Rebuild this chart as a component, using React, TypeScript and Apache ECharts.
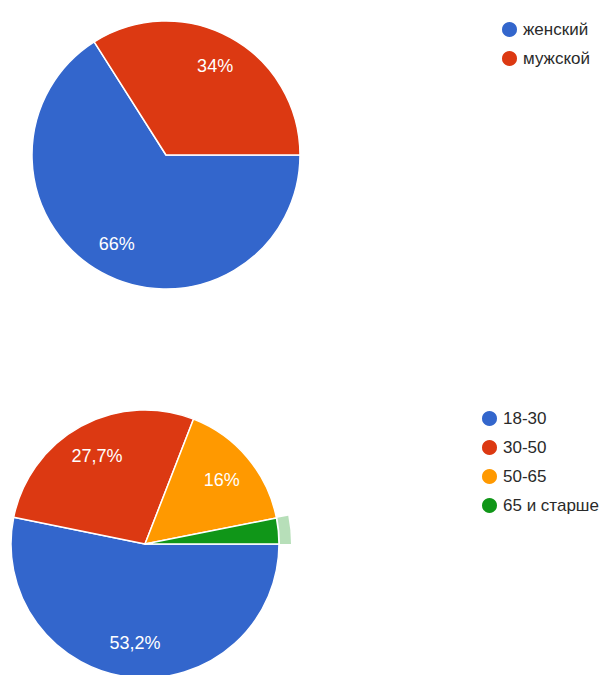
import React, { useEffect, useRef } from "react";
import * as echarts from "echarts";

const genderNames = ["женский", "мужской"];
const genderValues = [66, 34];
const ageNames = ["18-30", "30-50", "50-65", "65 и старше"];
const ageValues = [53.2, 27.7, 16, 3.1];
const palette = ["#3366cc", "#dc3912", "#ff9900", "#109618"];
const highlightIndex = 3;

const FONT = "Arial, 'Liberation Sans', sans-serif";

const fmt = (p: any) => String(p.value).replace(".", ",") + "%";

export default function App() {
  const ref = useRef<HTMLDivElement>(null);
  useEffect(() => {
    if (!ref.current) return;
    const chart = echarts.init(ref.current, null, { renderer: "svg" });

    const mkData = (names: string[], values: number[]) =>
      names.map((n, i) => ({ name: n, value: values[i], itemStyle: { color: palette[i] } }));

    const mkLabelData = (names: string[], values: number[]) =>
      names.map((n, i) => ({
        name: n,
        value: values[i],
        itemStyle: { color: "rgba(0,0,0,0)", borderWidth: 0 },
        label: { show: values[i] >= 5 },
      }));

    const pieBase = {
      type: "pie",
      startAngle: 0,
      clockwise: true,
      silent: true,
      avoidLabelOverlap: false,
      emphasis: { disabled: true },
    };

    const labelStyle = {
      show: true,
      position: "inside",
      color: "#ffffff",
      fontSize: 18,
      fontFamily: FONT,
      formatter: fmt,
    };

    const legendText = { color: "#2a2a2a", fontSize: 17, fontFamily: FONT };

    const legendBase = {
      orient: "vertical",
      icon: "circle",
      itemWidth: 17,
      itemHeight: 17,
      itemGap: 10,
      padding: 0,
      selectedMode: false,
      textStyle: legendText,
    };

    chart.setOption({
      animation: false,
      backgroundColor: "#ffffff",
      legend: [
        {
          ...legendBase,
          left: 500,
          top: 20,
          data: genderNames.map((n, i) => ({ name: n, itemStyle: { color: palette[i] } })),
        },
        {
          ...legendBase,
          left: 480,
          top: 409,
          data: ageNames.map((n, i) => ({ name: n, itemStyle: { color: palette[i] } })),
        },
      ],
      series: [
        {
          ...pieBase,
          name: "gender",
          center: [166, 155],
          radius: [0, 134],
          label: { show: false },
          labelLine: { show: false },
          itemStyle: { borderColor: "#ffffff", borderWidth: 1.5 },
          data: mkData(genderNames, genderValues),
        },
        {
          ...pieBase,
          name: "genderLabels",
          center: [166, 155],
          radius: [64, 134],
          label: labelStyle,
          labelLine: { show: false },
          data: mkLabelData(genderNames, genderValues),
        },
        {
          ...pieBase,
          name: "age",
          center: [145, 544],
          radius: [0, 134],
          label: { show: false },
          labelLine: { show: false },
          itemStyle: { borderColor: "#ffffff", borderWidth: 1.5 },
          data: mkData(ageNames, ageValues),
        },
        {
          ...pieBase,
          name: "ageHighlight",
          center: [145, 544],
          radius: [135, 146],
          label: { show: false },
          labelLine: { show: false },
          data: ageNames.map((n, i) => ({
            name: n,
            value: ageValues[i],
            itemStyle: {
              color: i === highlightIndex ? "rgba(16,150,24,0.3)" : "rgba(0,0,0,0)",
              borderWidth: 0,
            },
          })),
        },
        {
          ...pieBase,
          name: "ageLabels",
          center: [145, 544],
          radius: [60, 134],
          label: labelStyle,
          labelLine: { show: false },
          data: mkLabelData(ageNames, ageValues),
        },
      ],
    });
    return () => chart.dispose();
  }, []);
  return (
    <div
      ref={ref}
      style={{ position: "fixed", left: 0, top: 0, width: 609, height: 675 }}
    />
  );
}
